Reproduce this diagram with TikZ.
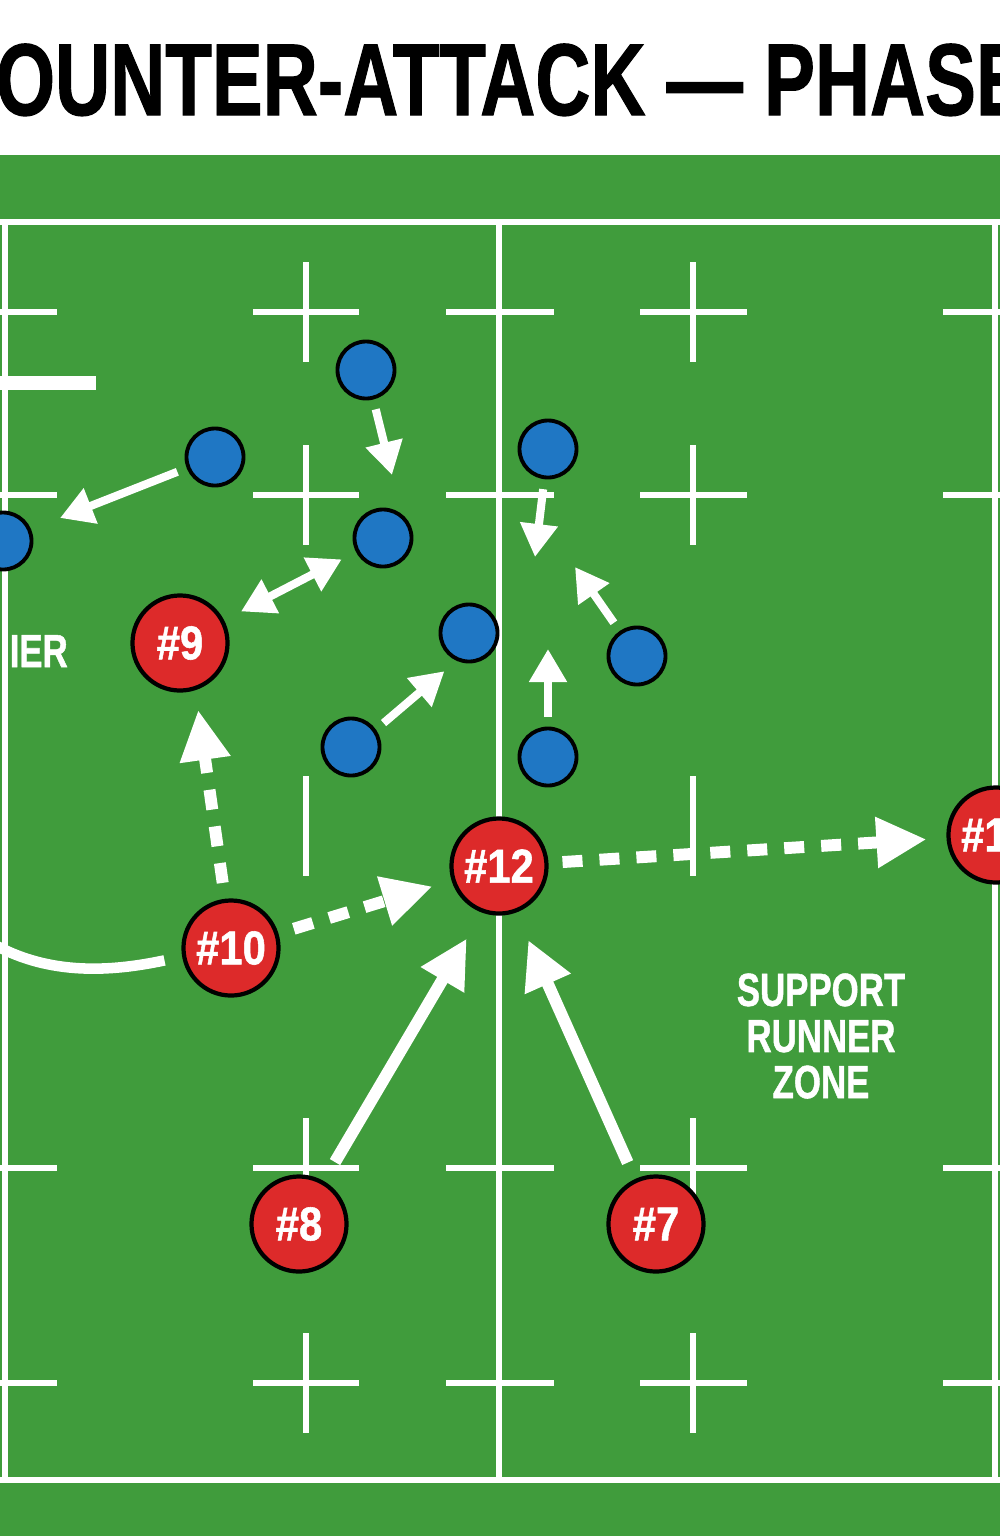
\documentclass[tikz,border=0pt]{standalone}
\usepackage{fontspec}
\setmainfont{Liberation Sans}[BoldFeatures={FakeBold=1.2}]
\usepackage{graphicx}
\usepackage{tikz}
\usetikzlibrary{arrows.meta, positioning}

\definecolor{grass}{RGB}{64,156,60}
\definecolor{attack}{RGB}{221,42,42}
\definecolor{defend}{RGB}{31,119,196}

\newcommand{\narrowtxt}[2]{\scalebox{#1}[1]{#2}}

\begin{document}
\begin{tikzpicture}[
  x=0.01cm, y=-0.01cm,
  pitchline/.style={white, line width=1.5pt},
  attacker/.style={circle, draw=black, line width=1.2pt, fill=attack, minimum size=0.95cm, inner sep=0pt, text=white, font=\fontsize{13.5}{14}\selectfont\bfseries},
  defender/.style={circle, draw=black, line width=1.1pt, fill=defend, minimum size=0.57cm, inner sep=0pt},
  run/.style={white, line width=2.3pt, -{Triangle[length=0.33cm, width=0.36cm]}, shorten <=0.1cm},
  drive/.style={white, line width=3.4pt, -{Triangle[length=0.48cm, width=0.47cm]}},
  pass/.style={white, line width=3.4pt, dash pattern=on 0.2cm off 0.17cm, -{Triangle[length=0.5cm, width=0.48cm]}},
  label/.style={text=white, font=\fontsize{13.2}{13.1}\selectfont\bfseries, align=center, inner sep=0pt},
]
\useasboundingbox (0,0) rectangle (1000,1536);
\clip (0,0) rectangle (1000,1536);

% Background
\fill[white] (0,0) rectangle (1000,155);
\fill[grass] (0,155) rectangle (1000,1536);
\node[anchor=base west, inner sep=0pt] (title) at (-60,115)
  {\narrowtxt{0.748}{\fontsize{29}{29}\selectfont\bfseries COUNTER-ATTACK — PHASE}};

% Pitch
\draw[pitchline] (0,222) -- (1000,222);
\draw[pitchline] (0,1480) -- (1000,1480);
\foreach \x in {5,499,995}
  \draw[pitchline] (\x,222) -- (\x,1480);
\foreach \y in {312,495,1168,1383}
  \foreach \a/\b in {0/57,253/359,446/554,640/747,943/1000}
    \draw[pitchline] (\a,\y) -- (\b,\y);
\foreach \y in {312,495,826,1168,1383}
  \foreach \x in {306,693}
    \draw[pitchline] (\x,\y-50) -- (\x,\y+50);

% Defenders
\node[defender] (d1) at (366,370) {};
\node[defender] (d2) at (215,457) {};
\node[defender] (d3) at (3,541) {};
\node[defender] (d4) at (383,538) {};
\node[defender] (d5) at (548,449) {};
\node[defender] (d6) at (469,633) {};
\node[defender] (d7) at (637,656) {};
\node[defender] (d8) at (351,747) {};
\node[defender] (d9) at (548,757) {};

% Attackers
\node[attacker] (p9) at (180,643) {\narrowtxt{0.88}{\#9}};
\node[attacker] (p10) at (231,948) {\narrowtxt{0.88}{\#10}};
\node[attacker] (p12) at (499,866) {\narrowtxt{0.88}{\#12}};
\node[attacker] (p13) at (996,835) {\narrowtxt{0.88}{\#13}};
\node[attacker] (p8) at (299,1224) {\narrowtxt{0.88}{\#8}};
\node[attacker] (p7) at (656,1224) {\narrowtxt{0.88}{\#7}};

% Labels
\node[label, anchor=base west] (recv) at (9,667) {\narrowtxt{0.75}{IER}};
\node[label] (zone) at (821,1036) {\narrowtxt{0.75}{SUPPORT}\\\narrowtxt{0.75}{RUNNER}\\\narrowtxt{0.75}{ZONE}};

% Defensive runs
\coordinate (d1to) at (392,475);
\coordinate (d2to) at (60,518);
\coordinate (d5to) at (535,557);
\coordinate (d7to) at (575,567);
\coordinate (d9to) at (548,649);
\draw[run] (d1) -- (d1to);
\draw[run] (d2) -- (d2to);
\draw[run] (d5) -- (d5to);
\draw[run] (d7) -- (d7to);
\draw[run] (d9) -- (d9to);
\draw[run, shorten >=0.16cm] (d8.35) -- (d6.-114);
\draw[run, {Triangle[length=0.33cm, width=0.36cm]}-{Triangle[length=0.33cm, width=0.36cm]}, shorten <=0.16cm, shorten >=0.19cm] (d4) -- (p9);

% Attack
\coordinate (loopin) at (-5,945);
\coordinate (wide) at (-5,383);
\draw[white, line width=4pt] (wide) -- (96,383);
\draw[white, line width=3pt, shorten >=0.18cm] (loopin) .. controls (50,975) and (110,972) .. (p10.190);
\draw[pass, shorten <=0.16cm, shorten >=0.2cm] (p10.97) -- (p9.-72);
\draw[pass, shorten <=0.16cm, shorten >=0.2cm] (p10) -- (p12);
\draw[pass, shorten <=0.14cm, shorten >=0.2cm] (p12) -- (p13);
\draw[drive, shorten <=0.22cm, shorten >=0.3cm] (p8.60) -- (p12.-110);
\draw[drive, shorten <=0.18cm, shorten >=0.3cm] (p7.115) -- (p12.-70);

\end{tikzpicture}
\end{document}
